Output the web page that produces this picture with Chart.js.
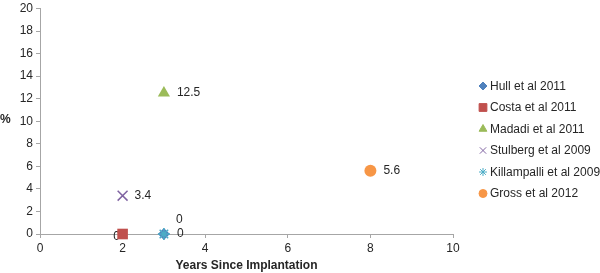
<!DOCTYPE html>
<html>
<head>
<meta charset="utf-8">
<script src="https://cdn.jsdelivr.net/npm/chart.js@4"></script>
<style>
	html, body { margin: 0; padding: 0; background: #fff; }
	#wrap { width: 600px; height: 273px; }
</style>
</head>
<body>
<div id="wrap"><canvas id="myChart"></canvas></div>
<script>
"use strict";

// Values
const studies = ["Hull et al 2011", "Costa et al 2011", "Madadi et al 2011", "Stulberg et al 2009", "Killampalli et al 2009", "Gross et al 2012"];
const years = [3, 2, 3, 2, 3, 8];
const rates = [0, 0, 12.5, 3.4, 0, 5.6];
const pointLabels = ["0", "0", "12.5", "3.4", "0", "5.6"];
const xTicks = [0, 2, 4, 6, 8, 10];
const yTicks = [0, 2, 4, 6, 8, 10, 12, 14, 16, 18, 20];

// Styles
const colors = ["#4F81BD", "#C0504D", "#9BBB59", "#8064A2", "#4BACC6", "#F79646"];
const styles = ["rectRot", "rect", "triangle", "crossRot", "star", "circle"];
const radii = [6, 7.5, 7, 7, 6, 6];
const legendRadii = [4, 5.5, 4.5, 4.5, 4, 4];
const labelOffsets = [[13, 0, "left"], [-6, 3, "center"], [13, 0, "left"], [12, 0, "left"], [12, -14, "left"], [13, 0, "left"]];
const font = "Liberation Sans, Arial, sans-serif";
const textColor = "#262626";
const axisColor = "#a6a6a6";

const datasets = studies.map(function (name, i) {
	return {
		label: name,
		data: [{ x: years[i], y: rates[i] }],
		pointStyle: styles[i],
		pointRadius: radii[i],
		pointHoverRadius: radii[i],
		backgroundColor: colors[i],
		borderColor: colors[i],
		borderWidth: (styles[i] === "crossRot" || styles[i] === "star") ? 1.5 : 0,
		order: i === 4 ? -1 : 0,
		clip: false,
	};
});

// labels, axis titles and legend drawn on the canvas
const extras = {
	id: "extras",
	beforeDatasetsDraw(chart) {
		const ctx = chart.ctx;
		ctx.save();
		ctx.font = "12px " + font;
		ctx.fillStyle = textColor;
		ctx.textBaseline = "middle";
		chart.data.datasets.forEach(function (ds, i) {
			const el = chart.getDatasetMeta(i).data[0];
			const off = labelOffsets[i];
			ctx.textAlign = off[2];
			ctx.fillText(pointLabels[i], el.x + off[0], el.y + off[1]);
		});
		ctx.restore();
	},
	afterDraw(chart) {
		const ctx = chart.ctx;
		const area = chart.chartArea;
		ctx.save();
		ctx.fillStyle = textColor;
		ctx.textBaseline = "middle";
		ctx.font = "bold 12px " + font;
		ctx.textAlign = "center";
		ctx.fillText("Years Since Implantation", (area.left + area.right) / 2, 266);
		ctx.textAlign = "left";
		ctx.fillText("%", 0, 120);

		// legend
		ctx.font = "12px " + font;
		studies.forEach(function (name, i) {
			const y = 86 + i * 21.5;
			ctx.fillStyle = colors[i];
			ctx.strokeStyle = colors[i];
			ctx.lineWidth = 1;
			Chart.helpers.drawPoint(ctx, { pointStyle: styles[i], radius: legendRadii[i], rotation: 0, borderWidth: 1 }, 483, y);
			ctx.fillStyle = textColor;
			ctx.fillText(name, 490, y + 0.5);
		});
		ctx.restore();
	},
};

new Chart(document.getElementById("myChart"), {
	type: "scatter",
	data: { datasets: datasets },
	options: {
		responsive: true,
		maintainAspectRatio: false,
		animation: false,
		events: [],
		layout: { padding: { top: 5, right: 147, left: 0, bottom: 0 } },
		plugins: { legend: { display: false }, tooltip: { enabled: false } },
		scales: {
			x: {
				type: "linear",
				min: xTicks[0],
				max: xTicks[xTicks.length - 1],
				afterBuildTicks: function (s) { s.ticks = xTicks.map(function (v) { return { value: v }; }); },
				afterFit: function (s) { s.height = 39; },
				grid: { display: true, drawOnChartArea: false, drawTicks: true, tickLength: 4, color: axisColor },
				border: { color: axisColor },
				ticks: { font: { family: font, size: 12 }, color: textColor, padding: 3, maxRotation: 0 },
			},
			y: {
				type: "linear",
				min: yTicks[0],
				max: yTicks[yTicks.length - 1],
				afterBuildTicks: function (s) { s.ticks = yTicks.map(function (v) { return { value: v }; }); },
				afterFit: function (s) { s.width = 40; },
				grid: { display: true, drawOnChartArea: false, drawTicks: true, tickLength: 4, color: axisColor },
				border: { color: axisColor },
				ticks: { font: { family: font, size: 12, lineHeight: 0.8 }, color: textColor, padding: 3 },
			},
		},
	},
	plugins: [extras],
});
</script>
</body>
</html>
